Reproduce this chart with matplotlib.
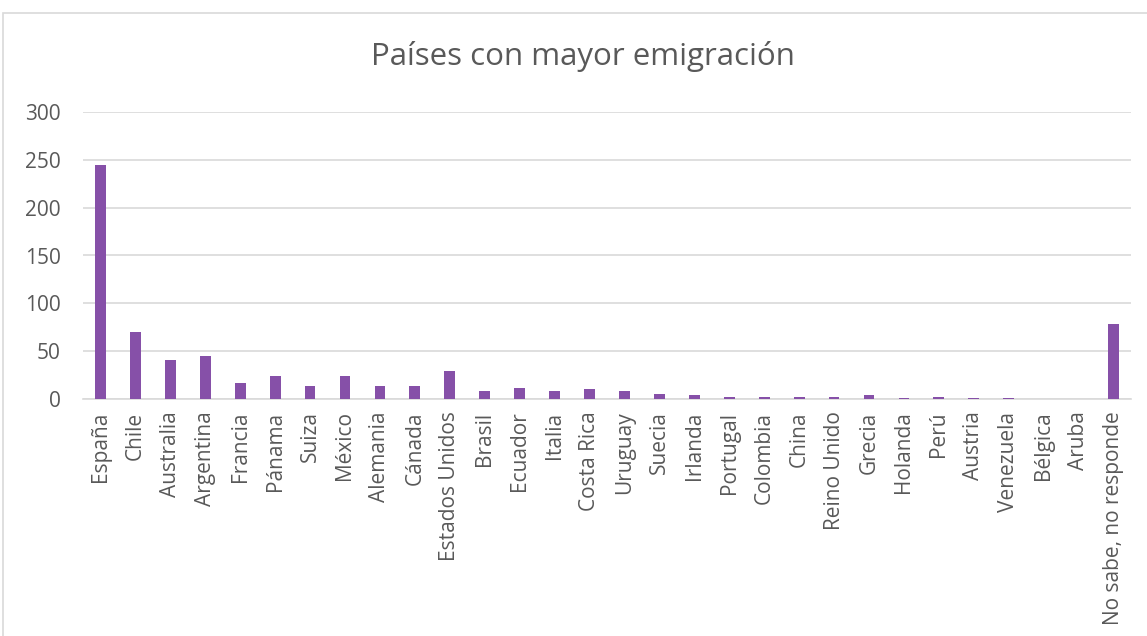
import matplotlib.pyplot as plt
from matplotlib.patches import Rectangle

# ---------- datos ----------
paises = ['España', 'Chile', 'Australia', 'Argentina', 'Francia', 'Pánama',
          'Suiza', 'México', 'Alemania', 'Cánada', 'Estados Unidos', 'Brasil',
          'Ecuador', 'Italia', 'Costa Rica', 'Uruguay', 'Suecia', 'Irlanda',
          'Portugal', 'Colombia', 'China', 'Reino Unido', 'Grecia', 'Holanda',
          'Perú', 'Austria', 'Venezuela', 'Bélgica', 'Aruba',
          'No sabe, no responde']
valores = [245, 70, 41, 45, 17, 24, 14, 24, 14, 14, 29, 8, 11, 8, 10, 8, 5, 4,
           2, 2, 2, 2, 4, 1, 2, 1, 1, 0, 0, 78]
y_ticks = [0, 50, 100, 150, 200, 250, 300]

color_barra = '#8650A8'
color_texto = '#595959'
color_grid = '#D9D9D9'


def main():
    plt.rcParams['font.family'] = ['Open Sans', 'DejaVu Sans']

    fig = plt.figure(figsize=(11.47, 6.36), dpi=100)
    ax = fig.add_axes([83 / 1147, 1 - 399 / 636, 1048 / 1147, 287 / 636])

    x = list(range(len(paises)))
    ax.bar(x, valores, width=0.31, color=color_barra, zorder=3)

    ax.set_xlim(-0.5, len(paises) - 0.5)
    ax.set_ylim(0, 300)
    ax.set_yticks(y_ticks)
    ax.set_xticks(x)
    ax.set_xticklabels(paises, rotation=90, fontsize=15, color=color_texto)
    ax.tick_params(axis='y', labelsize=15, labelcolor=color_texto, length=0, pad=16)
    ax.tick_params(axis='x', length=0, pad=9)

    ax.grid(axis='y', color=color_grid, linewidth=1.2, zorder=0)
    for lado in ['top', 'right', 'left']:
        ax.spines[lado].set_visible(False)
    ax.spines['bottom'].set_color(color_grid)
    ax.spines['bottom'].set_linewidth(1.2)

    fig.text(583 / 1147, 1 - 57 / 636, 'Países con mayor emigración',
             ha='center', va='center', fontsize=22.5, color=color_texto)

    # borde del área del gráfico
    borde = Rectangle((3 / 1147, -0.1), 1.2, (636 - 13) / 636 + 0.1,
                      transform=fig.transFigure, fill=False,
                      edgecolor=color_grid, linewidth=1.2, clip_on=False)
    fig.patches.append(borde)

    fig.savefig('out.png', dpi=100, facecolor='white')
    plt.close()


if __name__ == '__main__':
    main()
